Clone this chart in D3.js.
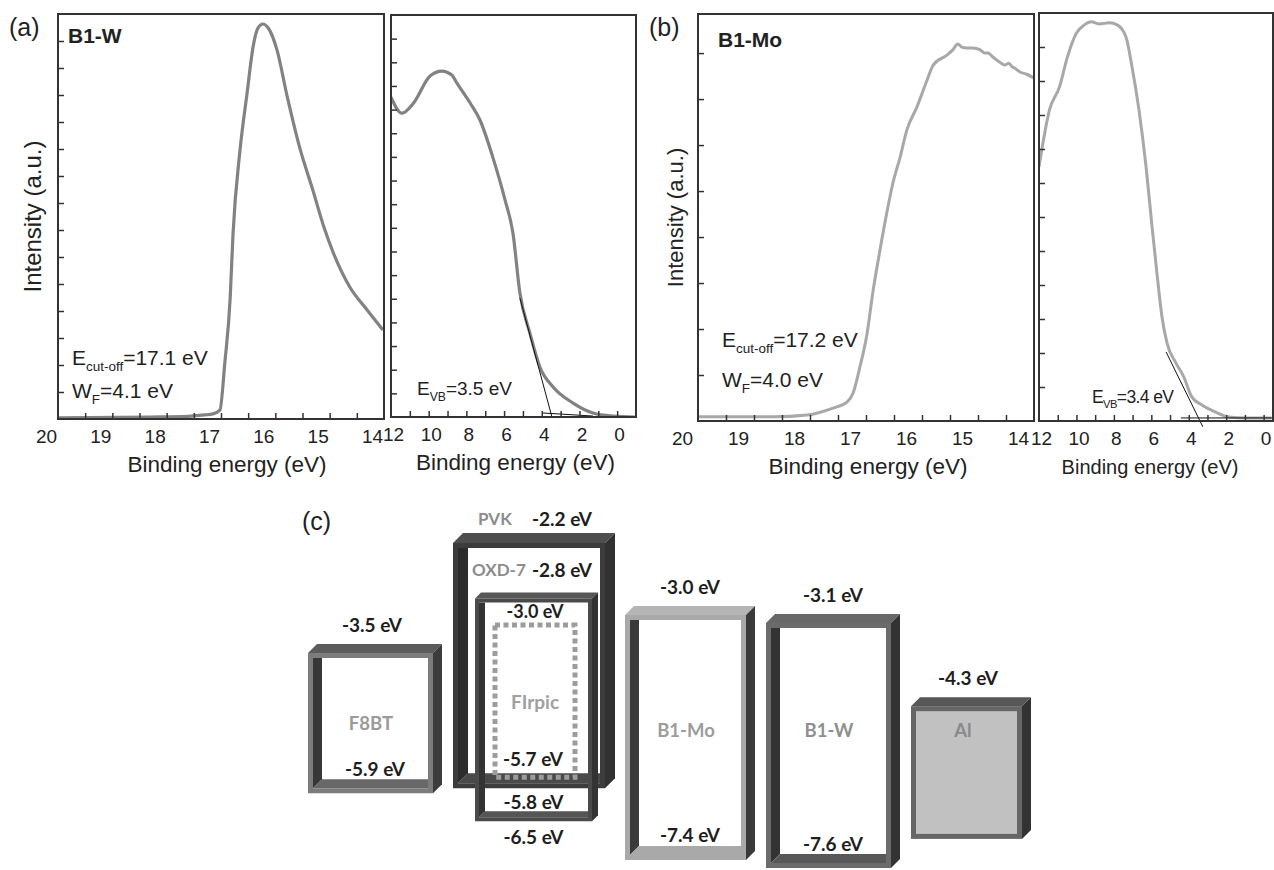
<!DOCTYPE html>
<html>
<head>
<meta charset="utf-8">
<script src="https://cdn.jsdelivr.net/npm/d3@7"></script>
<style>
  html, body { margin: 0; padding: 0; background: #fff; }
  svg { display: block; }
  .spec text { font-family: "Liberation Sans", Arial, sans-serif; fill: #222; }
  .levels text { font-family: Lato, "Open Sans", sans-serif; font-weight: 700; }
</style>
</head>
<body>
<div id="chart"></div>
<script>
// UPS spectra: binding energy (eV) and intensity (a.u.)
const wCutoffEnergy = [20.0, 18.3, 17.6, 17.3, 17.15, 17.02, 16.93, 16.83, 16.78, 16.65, 16.52, 16.41, 16.32, 16.23, 16.13, 15.97, 15.78, 15.55, 15.31, 15.10, 14.94, 14.63, 14.31, 14.02];
const wCutoffIntensity = [0.04, 0.07, 0.10, 0.15, 0.19, 0.33, 2.07, 4.52, 6.81, 9.96, 12.07, 13.78, 14.48, 14.63, 14.48, 13.67, 11.93, 10.04, 8.48, 7.07, 6.19, 4.89, 4.04, 3.30];

const wValenceEnergy = [12.0, 11.42, 10.8, 9.93, 9.3, 8.76, 8.5, 7.8, 7.28, 6.6, 5.95, 5.53, 5.16, 4.63, 4.1, 3.4, 2.34, 1.28, 0.22, -1.0];
const wValenceIntensity = [13.53, 12.85, 13.28, 14.42, 14.63, 14.45, 14.12, 13.28, 12.56, 10.99, 9.18, 7.78, 5.24, 3.55, 2.11, 1.27, 0.59, 0.17, 0.04, 0.0];

const moCutoffEnergy = [20.0, 18.66, 18.05, 17.59, 17.34, 17.23, 17.11, 16.98, 16.88, 16.75, 16.63, 16.52, 16.39, 16.27, 16.09, 15.91, 15.80, 15.55, 15.45, 15.36, 15.29, 15.20, 15.09, 14.96, 14.88, 14.82, 14.73, 14.61, 14.52, 14.45, 14.39, 14.34, 14.25, 14.13, 14.0];
const moCutoffIntensity = [0.09, 0.09, 0.13, 0.28, 0.41, 0.61, 1.17, 1.91, 2.78, 3.72, 4.52, 5.17, 5.74, 6.33, 6.83, 7.41, 7.74, 7.96, 8.07, 8.20, 8.13, 8.11, 8.11, 8.07, 8.0, 8.0, 7.91, 7.80, 7.74, 7.78, 7.70, 7.67, 7.59, 7.54, 7.46];

const moValenceEnergy = [12.0, 11.44, 10.91, 10.48, 10.0, 9.58, 9.21, 8.78, 8.25, 7.82, 7.35, 7.03, 6.66, 6.28, 5.96, 5.70, 5.43, 5.16, 4.69, 4.26, 3.84, 3.30, 2.56, 1.87, 0.96, -0.42];
const moValenceIntensity = [7.47, 9.15, 9.82, 10.71, 11.41, 11.65, 11.74, 11.68, 11.71, 11.65, 11.29, 10.41, 9.15, 7.47, 5.71, 4.35, 3.06, 2.29, 1.71, 1.29, 0.71, 0.47, 0.26, 0.12, 0.09, 0.09];

// onset extrapolation lines [energy, intensity]
const wValenceTangent = [[5.16, 5.03], [3.46, 0]];
const wValenceBaseline = [[3.94, 0.17], [1.28, 0.04]];
const moValenceTangent = [[5.21, 2.03], [3.25, -0.17]];
const moValenceBaseline = [[4.42, 0.09], [-0.5, 0.09]];

const cutoffTickLabels = [20, 19, 18, 17, 16, 15, 14];
const valenceTickLabels = [12, 10, 8, 6, 4, 2, 0];

// energy level diagram (eV)
const materials = ["F8BT", "PVK", "OXD-7", "FIrpic", "B1-Mo", "B1-W", "Al"];
const lumoLevels = [-3.5, -2.2, -2.8, -3.0, -3.0, -3.1, -4.3];
const homoLevels = [-5.9, -5.8, -6.5, -5.7, -7.4, -7.6, null];

const width = 1274, height = 870;

const svg = d3.select("#chart").append("svg")
    .attr("width", width)
    .attr("height", height);

// text with one subscript, e.g. E_cut-off=17.1 eV
function subText(g, x, y, main, sub, rest, fs) {
    const t = g.append("text").attr("x", x).attr("y", y).attr("font-size", fs);
    t.append("tspan").text(main);
    t.append("tspan").attr("font-size", fs * 0.64).attr("dy", fs * 0.3).text(sub);
    t.append("tspan").attr("dy", -fs * 0.3).text(rest);
    return t;
}

function spectrum(cfg) {
    const g = svg.append("g").attr("class", "spec");

    const x = d3.scaleLinear().domain(cfg.xDomain).range([cfg.left, cfg.right]);
    const y = d3.scaleLinear().domain([0, cfg.yMax]).range([cfg.bottom, cfg.top]);

    g.append("clipPath").attr("id", "clip-" + cfg.id)
        .append("rect")
        .attr("x", cfg.left).attr("y", cfg.top)
        .attr("width", cfg.right - cfg.left).attr("height", cfg.bottom - cfg.top);

    const line = d3.line().x(d => x(d[0])).y(d => y(d[1]));

    g.append("path")
        .datum(d3.zip(cfg.energy, cfg.intensity))
        .attr("clip-path", `url(#clip-${cfg.id})`)
        .attr("d", line.curve(d3.curveMonotoneX))
        .attr("fill", "none")
        .attr("stroke", cfg.color)
        .attr("stroke-width", cfg.strokeWidth)
        .attr("stroke-linejoin", "round");

    // onset extrapolation
    const straight = d3.line().x(d => x(d[0])).y(d => y(d[1]));
    (cfg.guides || []).forEach(pts => {
        g.append("path").attr("d", straight(pts))
            .attr("fill", "none").attr("stroke", "#111").attr("stroke-width", 1);
    });

    // inward ticks
    g.append("g")
        .attr("transform", `translate(${cfg.left},0)`)
        .call(d3.axisLeft(y).tickValues(d3.range(1, cfg.yMax)).tickSize(-6).tickFormat(""))
        .call(a => a.select(".domain").remove())
        .selectAll("line").attr("stroke", "#333").attr("stroke-width", 1.5);

    g.append("g")
        .attr("transform", `translate(0,${cfg.bottom})`)
        .call(d3.axisBottom(x).tickValues(cfg.minorTicks).tickSize(-6).tickFormat(""))
        .call(a => a.select(".domain").remove())
        .selectAll("line").attr("stroke", "#333").attr("stroke-width", 1.5);

    // tick labels
    const lab = g.append("g")
        .attr("transform", `translate(0,${cfg.bottom})`)
        .call(d3.axisBottom(x).tickValues(cfg.tickLabels).tickSize(0).tickPadding(11).tickFormat(d3.format("d")));
    lab.select(".domain").remove();
    lab.selectAll("text")
        .attr("dx", cfg.labelDx)
        .attr("font-size", 19)
        .attr("font-family", "'Liberation Sans', Arial, sans-serif")
        .attr("fill", "#222");

    // frame
    g.append("rect")
        .attr("x", cfg.left).attr("y", cfg.top)
        .attr("width", cfg.right - cfg.left).attr("height", cfg.bottom - cfg.top)
        .attr("fill", "none").attr("stroke", "#333").attr("stroke-width", 2);

    // axis title
    g.append("text")
        .attr("x", (cfg.left + cfg.right) / 2 + cfg.titleDx)
        .attr("y", cfg.bottom + 53)
        .attr("text-anchor", "middle")
        .attr("font-size", cfg.titleSize)
        .text("Binding energy (eV)");

    if (cfg.yTitle) {
        g.append("text")
            .attr("transform", `translate(${cfg.left - cfg.yTitle.offset},${(cfg.top + cfg.bottom) / 2}) rotate(-90)`)
            .attr("text-anchor", "middle")
            .attr("font-size", cfg.yTitle.size)
            .text("Intensity (a.u.)");
    }
    return g;
}

// (a) B1-W
const aCut = spectrum({
    id: "aCut", left: 58, right: 384, top: 14, bottom: 419,
    xDomain: [20, 14], yMax: 15,
    energy: wCutoffEnergy, intensity: wCutoffIntensity,
    color: "#828282", strokeWidth: 3.2,
    minorTicks: d3.range(19.5, 14.2, -0.5), tickLabels: cutoffTickLabels, labelDx: -12,
    titleSize: 22.5, titleDx: 6,
    yTitle: { offset: 17, size: 24 }
});
aCut.append("text").attr("x", 9).attr("y", 36).attr("font-size", 25).text("(a)");
aCut.append("text").attr("x", 68).attr("y", 43).attr("font-size", 21).attr("font-weight", 700).text("B1-W");
subText(aCut, 72, 365, "E", "cut-off", "=17.1 eV", 21);
subText(aCut, 72, 398, "W", "F", "=4.1 eV", 21);

const aVal = spectrum({
    id: "aVal", left: 391, right: 636, top: 15, bottom: 417,
    xDomain: [12, -1], yMax: 17,
    energy: wValenceEnergy, intensity: wValenceIntensity,
    color: "#828282", strokeWidth: 3.2,
    guides: [wValenceTangent, wValenceBaseline],
    minorTicks: d3.range(11, -0.5, -1), tickLabels: valenceTickLabels, labelDx: 2,
    titleSize: 22.5, titleDx: 2
});
subText(aVal, 417, 395, "E", "VB", "=3.5 eV", 19);

// (b) B1-Mo
const bCut = spectrum({
    id: "bCut", left: 698, right: 1034, top: 14, bottom: 421,
    xDomain: [20, 14], yMax: 8.85,
    energy: moCutoffEnergy, intensity: moCutoffIntensity,
    color: "#a8a8a8", strokeWidth: 3,
    minorTicks: d3.range(19.5, 14.2, -0.5), tickLabels: cutoffTickLabels, labelDx: -16,
    titleSize: 22.5, titleDx: 2,
    yTitle: { offset: 15, size: 22 }
});
bCut.append("text").attr("x", 649).attr("y", 36).attr("font-size", 25).text("(b)");
bCut.append("text").attr("x", 718).attr("y", 47).attr("font-size", 21).attr("font-weight", 700).text("B1-Mo");
subText(bCut, 722, 347, "E", "cut-off", "=17.2 eV", 21);
subText(bCut, 722, 387, "W", "F", "=4.0 eV", 21);

const bVal = spectrum({
    id: "bVal", left: 1039, right: 1273, top: 13, bottom: 421,
    xDomain: [12, -0.5], yMax: 12,
    energy: moValenceEnergy, intensity: moValenceIntensity,
    color: "#a8a8a8", strokeWidth: 3,
    guides: [moValenceTangent, moValenceBaseline],
    minorTicks: d3.range(11, -0.5, -1), tickLabels: valenceTickLabels, labelDx: 2,
    titleSize: 20, titleDx: -6
});
subText(bVal, 1092, 403, "E", "VB", "=3.4 eV", 17.5).attr("letter-spacing", -0.6);

// (c) energy level diagram (schematic, compressed vertical scale)
const yE = d3.scalePow().exponent(0.25).domain([-2.2, -7.6]).range([543, 868]);
const level = name => ({ lumo: lumoLevels[materials.indexOf(name)], homo: homoLevels[materials.indexOf(name)] });

const alDepth = -6.9; // drawn depth of the Al slab (no level)
const depth = 9, rim = 5, boxGap = 11, diagramLeft = 308;

const columns = [
    { key: "F8BT", w: 125 },
    { key: "PVK", w: 152 },
    { key: "B1-Mo", w: 121 },
    { key: "B1-W", w: 125 },
    { key: "Al", w: 111 }
];
let cursor = diagramLeft;
columns.forEach(c => { c.x0 = cursor; c.x1 = cursor + c.w; cursor = c.x1 + depth + boxGap; });
const col = k => columns.find(c => c.key === k);

const boxStyle = {
    "F8BT":  { frame: "#7c7c7c", top: "#5c5c5c", side: "#3c3c3c", wallL: "#373737", wallB: "#686868" },
    "PVK":   { frame: "#3c3c3c", top: "#4e4e4e", side: "#313131", wallL: "#2c2c2c", wallB: "#4a4a4a" },
    "OXD-7": { frame: "#4a4a4a", top: "#575757", side: "#333333", wallL: "#333333", wallB: "#555555" },
    "B1-Mo": { frame: "#a9a9a9", top: "#b5b5b5", side: "#3a3a3a", wallL: "#3a3a3a", wallB: "#a9a9a9" },
    "B1-W":  { frame: "#6b6b6b", top: "#686868", side: "#333333", wallL: "#333333", wallB: "#585858" },
    "Al":    { frame: "#666666", top: "#575757", side: "#333333", fill: "#c1c1c1" }
};

const lv = svg.append("g").attr("class", "levels");
const pts = a => a.map(p => p.join(",")).join(" ");

function box3d(x0, x1, yTop, yBot, st, d, b) {
    const g = lv.append("g");
    g.append("polygon").attr("points", pts([[x0, yTop], [x0 + d, yTop - d], [x1 + d, yTop - d], [x1, yTop]])).attr("fill", st.top);
    g.append("polygon").attr("points", pts([[x1, yTop], [x1 + d, yTop - d], [x1 + d, yBot - d], [x1, yBot]])).attr("fill", st.side);
    if (st.fill) {
        g.append("rect").attr("x", x0).attr("y", yTop).attr("width", x1 - x0).attr("height", yBot - yTop).attr("fill", st.frame);
        g.append("rect").attr("x", x0 + b).attr("y", yTop + b).attr("width", x1 - x0 - 2 * b).attr("height", yBot - yTop - 2 * b).attr("fill", st.fill);
        return g;
    }
    const xi0 = x0 + b, xi1 = x1 - b, yi0 = yTop + b, yi1 = yBot - b;
    g.append("polygon").attr("points", pts([[xi0, yi0], [xi0 + d, yi0], [xi0 + d, yi1 - d], [xi0, yi1]])).attr("fill", st.wallL);
    g.append("polygon").attr("points", pts([[xi0, yi1], [xi0 + d, yi1 - d], [xi1, yi1 - d], [xi1, yi1]])).attr("fill", st.wallB);
    g.append("path")
        .attr("d", `M${x0},${yTop}H${x1}V${yBot}H${x0}Z M${xi0},${yi0}V${yi1}H${xi1}V${yi0}Z`)
        .attr("fill", st.frame).attr("fill-rule", "evenodd");
    return g;
}

function label(x, y, txt, opts = {}) {
    return lv.append("text")
        .attr("x", x).attr("y", y)
        .attr("text-anchor", opts.anchor || "middle")
        .attr("dominant-baseline", "central")
        .attr("font-size", opts.size || 19)
        .attr("fill", opts.color || "#1e1e1e")
        .text(txt);
}
const eV = v => `${v.toFixed(1)} eV`;
const nameRow = 730;

// F8BT
{
    const c = col("F8BT"), L = level("F8BT"), cx = (c.x0 + c.x1 + depth) / 2;
    box3d(c.x0, c.x1, yE(L.lumo), yE(L.homo), boxStyle["F8BT"], depth, rim);
    label(cx - 3, yE(L.lumo) - depth - 20, eV(L.lumo));
    label(cx, yE(L.homo) - 25, eV(L.homo));
    label(cx - 4, Math.min((yE(L.lumo) + yE(L.homo)) / 2, nameRow), "F8BT", { color: "#9a9a9a", size: 18.5 });
}

// PVK : OXD-7 : FIrpic emissive layer
{
    const c = col("PVK"), P = level("PVK"), O = level("OXD-7"), F = level("FIrpic");
    const ox0 = c.x0 + 22, ox1 = ox0 + 117;
    const fx0 = c.x0 + 42, fx1 = fx0 + 80, fcx = (fx0 + fx1) / 2;
    const rowEnd = c.x1 - 13;

    box3d(c.x0, c.x1, yE(P.lumo), yE(P.homo), boxStyle["PVK"], depth + 1, rim);
    box3d(ox0, ox1, yE(O.lumo), yE(O.homo), boxStyle["OXD-7"], 6, 4);

    // FIrpic dopant, drawn inset inside the host boxes
    const insetTop = 10, insetBottom = 6;
    const fTop = yE(F.lumo) + insetTop, fBot = yE(F.homo) - insetBottom;
    lv.append("rect")
        .attr("x", fx0).attr("y", fTop)
        .attr("width", fx1 - fx0).attr("height", fBot - fTop)
        .attr("fill", "none").attr("stroke", "#9c9c9c")
        .attr("stroke-width", 5).attr("stroke-dasharray", "5 3.5");

    label(ox0 + 3, yE(P.lumo) - 25, "PVK", { anchor: "start", color: "#8c8c8c", size: 17 });
    label(rowEnd, yE(P.lumo) - 25, eV(P.lumo), { anchor: "end" });
    label(ox0 - 3, yE(O.lumo) - 29, "OXD-7", { anchor: "start", color: "#8c8c8c", size: 17 });
    label(rowEnd, yE(O.lumo) - 29, eV(O.lumo), { anchor: "end" });

    label(fcx, fTop - 14, eV(F.lumo), { size: 18 });
    label(fcx, (fTop + fBot) / 2, "FIrpic", { color: "#a0a0a0", size: 19 });
    label(fcx - 2, fBot - 19, eV(F.homo));

    label((ox0 + ox1) / 2, yE(P.homo) + 13, eV(P.homo));
    label((ox0 + ox1) / 2, yE(O.homo) + 15, eV(O.homo));
}

// B1-Mo and B1-W
["B1-Mo", "B1-W"].forEach(k => {
    const c = col(k), L = level(k), cx = (c.x0 + c.x1 + depth) / 2;
    box3d(c.x0, c.x1, yE(L.lumo), yE(L.homo), boxStyle[k], depth, rim);
    label(cx, yE(L.lumo) - depth - 20, eV(L.lumo));
    label(cx, yE(L.homo) - 25, eV(L.homo));
    label(cx - 4, nameRow, k, { color: k === "B1-Mo" ? "#9c9c9c" : "#8f8f8f", size: 18.5 });
});

// Al
{
    const c = col("Al"), L = level("Al"), cx = (c.x0 + c.x1 + depth) / 2;
    box3d(c.x0, c.x1, yE(L.lumo), yE(alDepth), boxStyle["Al"], depth, rim);
    label(cx - 3, yE(L.lumo) - depth - 20, eV(L.lumo));
    label(cx - 8, nameRow, "Al", { color: "#8a8a8a", size: 18.5 });
}

svg.append("text")
    .attr("x", 302).attr("y", 530)
    .attr("font-family", "'Liberation Sans', Arial, sans-serif")
    .attr("font-size", 25).attr("fill", "#222")
    .text("(c)");
</script>
</body>
</html>
